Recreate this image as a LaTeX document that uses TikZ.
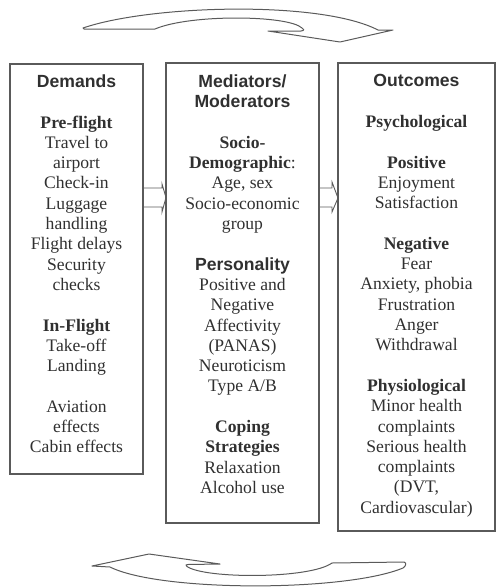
\documentclass[tikz,border=0pt]{standalone}
\usepackage{fontspec}
\setmainfont{Liberation Serif}
\newfontfamily\headfont{Liberation Sans}
\usetikzlibrary{calc}
\definecolor{ink}{HTML}{303030}
\definecolor{rule}{HTML}{5A5A5A}
\newcommand\headtxt[1]{{\headfont\bfseries #1}}
\begin{document}
\begin{tikzpicture}[x=1pt,y=-1pt,
  panel/.style={draw=rule, line width=1.1pt, inner sep=0pt, outer sep=0pt, anchor=north west},
  txt/.style={align=center, inner sep=0pt, anchor=north, text=ink,
              font=\fontsize{17.6}{20.3}\selectfont},
  flowarrow/.style={draw=rule, line width=0.9pt, line join=miter},
  cyclearrow/.style={draw=rule, line width=1pt, line join=round}]
\useasboundingbox (0,0) rectangle (496,587);

% the three panels
\node[panel, minimum width=133pt, minimum height=410pt] (dem) at (10,64) {};
\node[panel, minimum width=153pt, minimum height=460pt] (med) at (166,63) {};
\node[panel, minimum width=157pt, minimum height=468pt] (out) at (338,63) {};

% panel contents
\node[txt] (demtxt) at (76.5,74.5) {\headtxt{Demands}\\[20.3pt]
  \textbf{Pre-flight}\\ Travel to\\ airport\\ Check-in\\ Luggage\\ handling\\
  Flight delays\\ Security\\ checks\\[20.3pt]
  \textbf{In-Flight}\\ Take-off\\ Landing\\[20.3pt]
  Aviation\\ effects\\ Cabin effects};

\node[txt] (medtxt) at (242.5,74.5) {\headtxt{Mediators/}\\ \headtxt{Moderators}\\[20.3pt]
  \textbf{Socio-}\\ \textbf{Demographic}:\\ Age, sex\\ Socio-economic\\ group\\[20.3pt]
  \headtxt{Personality}\\ Positive and\\ Negative\\ Affectivity\\ (PANAS)\\
  Neuroticism\\ Type A/B\\[20.3pt]
  \textbf{Coping}\\ \textbf{Strategies}\\ Relaxation\\ Alcohol use};

\node[txt] (outtxt) at (416.5,74.5) {\headtxt{Outcomes}\\[20.3pt]
  \textbf{Psychological}\\[20.3pt]
  \textbf{Positive}\\ Enjoyment\\ Satisfaction\\[20.3pt]
  \textbf{Negative}\\ Fear\\ Anxiety, phobia\\ Frustration\\ Anger\\ Withdrawal\\[20.3pt]
  \textbf{Physiological}\\ Minor health\\ complaints\\ Serious health\\ complaints\\
  (DVT,\\ Cardiovascular)};

% hollow block arrows between the panels
\draw[flowarrow] (dem.east |- 0,188) -- (162,188) -- (162,184)
  -- (med.west |- 0,197.5) -- (162,212) -- (162,207) -- (dem.east |- 0,207);
\draw[flowarrow] (med.east |- 0,188) -- (332,188) -- (332,182)
  -- (out.west |- 0,198) -- (332,212) -- (332,207) -- (med.east |- 0,207);

% curved feedback arrow above (pointing right and down)
\draw[cyclearrow] (83,28) .. controls (150,5) and (320,0) .. (378,30)
  -- (393,30) -- (340,42) -- (268,31) -- (301,31)
  .. controls (305,30.5) and (304,29) .. (302,28)
  .. controls (288,15) and (190,14) .. (155,29) -- (84,29) -- cycle;

% curved feedback arrow below (pointing left and up)
\draw[cyclearrow] (404,562) -- (332,563)
  .. controls (310,579) and (205,579) .. (187,566.5)
  .. controls (185,565) and (186,564.5) .. (188,564.5)
  -- (220,564) -- (149,554) -- (92,566) -- (110,567)
  .. controls (160,592) and (345,592) .. (403,568)
  .. controls (406,566) and (407,563) .. cycle;
\end{tikzpicture}
\end{document}
